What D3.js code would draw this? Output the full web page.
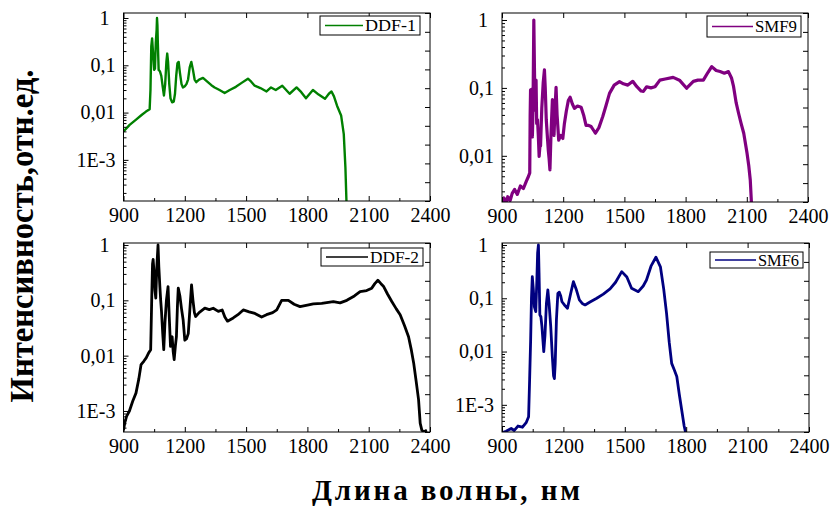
<!DOCTYPE html>
<html>
<head>
<meta charset="utf-8">
<script src="https://cdnjs.cloudflare.com/ajax/libs/d3/7.8.5/d3.min.js"></script>
<style>
body { margin: 0; background: #fff; }
text { font-family: "Liberation Serif", "Times New Roman", serif; }
</style>
</head>
<body>
<svg id="chart" width="834" height="507"></svg>
<script>
// tick labels
var xTicks = [900, 1200, 1500, 1800, 2100, 2400];
var xMinorTicks = [1050, 1350, 1650, 1950, 2250];
var yTickValues = [1, 0.1, 0.01, 0.001];
var yTickLabels = ["1", "0,1", "0,01", "1E-3"];

// spectra: [wavelength nm, relative intensity]
var ddf1 = [[900,0.004],[930,0.0055],[960,0.007],[990,0.009],[1010,0.0105],[1028,0.0118],[1032,0.03],[1036,0.25],
  [1040,0.37],[1044,0.2],[1050,0.08],[1054,0.085],[1058,0.3],[1062,0.55],[1064,1.0],[1066,0.7],[1068,0.3],[1072,0.08],
  [1078,0.075],[1085,0.06],[1092,0.035],[1098,0.023],[1104,0.04],[1110,0.12],[1114,0.177],[1118,0.12],[1124,0.04],
  [1130,0.02],[1138,0.0165],[1146,0.017],[1152,0.025],[1158,0.06],[1164,0.11],[1170,0.118],[1176,0.07],[1184,0.04],
  [1191,0.034],[1200,0.036],[1208,0.04],[1216,0.05],[1224,0.09],[1232,0.118],[1240,0.08],[1248,0.05],[1256,0.044],
  [1270,0.05],[1289,0.054],[1310,0.045],[1330,0.038],[1346,0.034],[1370,0.03],[1395,0.026],[1420,0.03],[1450,0.035],
  [1480,0.043],[1509,0.052],[1525,0.045],[1542,0.037],[1570,0.033],[1600,0.028],[1622,0.034],[1645,0.03],[1677,0.037],
  [1713,0.025],[1747,0.034],[1770,0.027],[1793,0.02],[1827,0.03],[1855,0.024],[1886,0.0195],[1905,0.025],[1918,0.028],
  [1930,0.022],[1945,0.014],[1965,0.0087],[1978,0.0035],[1986,0.0007],[1992,0.0001]];

var smf9 = [[900,0.0019],[910,0.0024],[918,0.0018],[928,0.0025],[940,0.0022],[950,0.0028],[962,0.0032],[975,0.0027],
  [990,0.0036],[1005,0.0033],[1019,0.0042],[1030,0.005],[1036,0.0056],[1038,0.04],[1040,0.094],[1042,0.03],[1044,0.095],
  [1047,0.04],[1049,0.019],[1052,0.05],[1056,1.0],[1059,0.2],[1062,0.047],[1065,0.08],[1067,0.13],[1070,0.03],[1074,0.034],
  [1078,0.02],[1082,0.0098],[1086,0.014],[1089,0.014],[1095,0.05],[1102,0.12],[1108,0.184],[1112,0.1],[1117,0.034],
  [1122,0.02],[1127,0.012],[1131,0.009],[1135,0.0062],[1140,0.02],[1147,0.067],[1151,0.04],[1155,0.02],[1160,0.05],
  [1165,0.102],[1170,0.04],[1178,0.017],[1188,0.02],[1198,0.018],[1206,0.03],[1215,0.045],[1225,0.065],[1234,0.073],
  [1245,0.058],[1255,0.05],[1270,0.054],[1288,0.052],[1300,0.04],[1312,0.028],[1325,0.028],[1337,0.027],[1348,0.024],
  [1358,0.0215],[1375,0.026],[1394,0.038],[1410,0.055],[1427,0.083],[1450,0.11],[1476,0.124],[1495,0.115],[1517,0.11],
  [1541,0.125],[1560,0.105],[1582,0.09],[1593,0.089],[1609,0.104],[1630,0.1],[1650,0.104],[1674,0.13],[1700,0.135],
  [1739,0.143],[1770,0.13],[1805,0.099],[1838,0.125],[1860,0.13],[1887,0.13],[1910,0.17],[1928,0.206],[1950,0.18],
  [1969,0.174],[1990,0.165],[2010,0.174],[2025,0.14],[2035,0.105],[2048,0.06],[2060,0.042],[2072,0.03],[2085,0.0215],
  [2101,0.011],[2110,0.007],[2117,0.0044],[2125,0.0015]];

var ddf2 = [[900,0.00045],[906,0.0006],[915,0.0008],[929,0.001],[945,0.0015],[961,0.0021],[975,0.0038],[986,0.0069],
  [1000,0.008],[1011,0.0091],[1022,0.011],[1033,0.0128],[1038,0.1],[1042,0.45],[1045,0.55],[1050,0.3],[1054,0.15],
  [1058,0.11],[1063,0.4],[1069,1.0],[1073,0.4],[1078,0.177],[1082,0.1],[1086,0.063],[1092,0.025],[1097,0.0128],
  [1103,0.04],[1110,0.1],[1118,0.177],[1124,0.05],[1130,0.0147],[1134,0.02],[1138,0.022],[1143,0.012],[1148,0.0085],
  [1154,0.015],[1159,0.022],[1164,0.08],[1168,0.166],[1176,0.12],[1184,0.07],[1192,0.044],[1200,0.019],[1208,0.02],
  [1217,0.025],[1225,0.07],[1233,0.19],[1240,0.1],[1247,0.06],[1253,0.051],[1270,0.06],[1298,0.072],[1320,0.068],
  [1339,0.072],[1364,0.063],[1383,0.067],[1396,0.05],[1409,0.042],[1437,0.048],[1460,0.055],[1486,0.067],[1515,0.062],
  [1543,0.058],[1576,0.05],[1600,0.055],[1630,0.06],[1650,0.067],[1674,0.1],[1707,0.1],[1735,0.085],[1764,0.077],
  [1800,0.082],[1829,0.086],[1870,0.088],[1927,0.095],[1960,0.09],[1993,0.1],[2030,0.12],[2058,0.144],[2090,0.15],
  [2115,0.166],[2130,0.2],[2145,0.23],[2160,0.2],[2172,0.18],[2192,0.13],[2213,0.095],[2235,0.07],[2254,0.055],
  [2275,0.035],[2295,0.022],[2308,0.013],[2320,0.0074],[2332,0.0035],[2344,0.0016],[2352,0.0006],[2360,0.00045],
  [2370,0.00042],[2385,0.00045]];

var smf6 = [[900,0.0003],[920,0.00032],[945,0.00036],[960,0.00033],[978,0.0004],[1000,0.00038],[1019,0.00047],
  [1030,0.0006],[1035,0.003],[1040,0.0166],[1044,0.1],[1048,0.254],[1053,0.15],[1058,0.07],[1065,0.056],[1070,0.2],
  [1074,0.7],[1078,1.0],[1081,0.3],[1085,0.049],[1090,0.045],[1095,0.03],[1104,0.01],[1110,0.02],[1117,0.08],
  [1124,0.143],[1130,0.08],[1138,0.03],[1146,0.008],[1152,0.0035],[1156,0.0031],[1160,0.006],[1166,0.04],[1173,0.124],
  [1180,0.13],[1187,0.11],[1193,0.086],[1205,0.075],[1220,0.065],[1235,0.12],[1249,0.205],[1262,0.15],[1278,0.093],
  [1292,0.08],[1306,0.075],[1330,0.085],[1363,0.1],[1395,0.12],[1428,0.15],[1455,0.2],[1485,0.316],[1510,0.25],
  [1533,0.154],[1566,0.133],[1590,0.17],[1606,0.22],[1628,0.4],[1652,0.59],[1674,0.39],[1690,0.15],[1704,0.052],
  [1717,0.015],[1729,0.006],[1742,0.0045],[1754,0.0034],[1766,0.0016],[1778,0.0008],[1790,0.0004],[1799,0.00028]];

var panels = [
  {name: "DDF-1", data: ddf1, color: "#008000", lw: 2.4, left: 123.5, right: 430, top: 13, bottom: 201,
   yMin: -3.87, yMax: 0.106, legend: [320, 16, 100, 19, 38]},
  {name: "SMF9", data: smf9, color: "#800080", lw: 3.2, left: 502, right: 808, top: 13, bottom: 202,
   yMin: -2.68, yMax: 0.103, legend: [707, 16, 94, 21, 41]},
  {name: "DDF-2", data: ddf2, color: "#000000", lw: 2.8, left: 123.5, right: 430, top: 243, bottom: 432,
   yMin: -3.38, yMax: 0.036, legend: [321, 248, 102, 18, 42]},
  {name: "SMF6", data: smf6, color: "#000080", lw: 2.8, left: 502, right: 809, top: 243, bottom: 432,
   yMin: -3.51, yMax: 0.0375, legend: [710, 252, 93, 16, 41]}
];

var svg = d3.select("#chart");

panels.forEach(function(p, i) {
    drawPanel(svg, p, i);
});

function styleAxis(g, size) {
    g.select(".domain").remove();
    g.attr("font-family", null).attr("font-size", null);
    g.selectAll("line").attr("stroke", "#000");
    g.selectAll("text").attr("fill", "#000").style("font-size", size + "px");
}

function drawPanel(svg, p, i) {
    var x = d3.scaleLinear().domain([900, 2400]).range([p.left, p.right]);
    var y = d3.scaleLog()
        .domain([Math.pow(10, p.yMin), Math.pow(10, p.yMax)])
        .range([p.bottom, p.top]);
    // right axis of the original is a plain linear one without labels
    var yr = d3.scaleLinear().domain([0, 1]).range([p.bottom, p.top]);

    svg.append("clipPath").attr("id", "clip" + i)
        .append("rect")
        .attr("x", p.left).attr("y", p.top)
        .attr("width", p.right - p.left).attr("height", p.bottom - p.top);

    var line = d3.line()
        .x(function(d) { return x(d[0]); })
        .y(function(d) { return y(d[1]); });

    svg.append("path")
        .datum(p.data)
        .attr("clip-path", "url(#clip" + i + ")")
        .attr("fill", "none")
        .attr("stroke", p.color)
        .attr("stroke-width", p.lw)
        .attr("stroke-linejoin", "round")
        .attr("d", line);

    var dom = y.domain();
    var majors = yTickValues.filter(function(v) { return v >= dom[0] && v <= dom[1]; });
    var minors = y.ticks().filter(function(v) {
        return majors.indexOf(v) < 0 && yTickValues.indexOf(v) < 0;
    });

    // bottom
    svg.append("g")
        .attr("transform", "translate(0," + p.bottom + ")")
        .call(d3.axisBottom(x).tickValues(xTicks).tickSize(-5).tickPadding(7).tickFormat(d3.format("d")))
        .call(styleAxis, 20);
    svg.append("g")
        .attr("transform", "translate(0," + p.bottom + ")")
        .call(d3.axisBottom(x).tickValues(xMinorTicks).tickSize(-3).tickFormat(""))
        .call(styleAxis, 20);
    // top
    svg.append("g")
        .attr("transform", "translate(0," + p.top + ")")
        .call(d3.axisTop(x).tickValues(xTicks).tickSize(-5).tickFormat(""))
        .call(styleAxis, 20);
    // left
    var left = svg.append("g")
        .attr("transform", "translate(" + p.left + ",0)")
        .call(d3.axisLeft(y).tickValues(majors).tickSize(-5).tickPadding(8)
            .tickFormat(function(v) { return yTickLabels[yTickValues.indexOf(v)]; }))
        .call(styleAxis, 20);
    left.selectAll(".tick text").filter(function(v) { return v === 1; }).attr("dx", -6);
    svg.append("g")
        .attr("transform", "translate(" + p.left + ",0)")
        .call(d3.axisLeft(y).tickValues(minors).tickSize(-3).tickFormat(""))
        .call(styleAxis, 20);
    // right
    svg.append("g")
        .attr("transform", "translate(" + p.right + ",0)")
        .call(d3.axisRight(yr).ticks(10).tickSize(-5).tickFormat(""))
        .call(styleAxis, 20);

    svg.append("rect")
        .attr("x", p.left).attr("y", p.top)
        .attr("width", p.right - p.left).attr("height", p.bottom - p.top)
        .attr("fill", "none").attr("stroke", "#000").attr("stroke-width", 1);

    // legend
    var lg = p.legend;
    var leg = svg.append("g");
    leg.append("rect")
        .attr("x", lg[0]).attr("y", lg[1]).attr("width", lg[2]).attr("height", lg[3])
        .attr("fill", "#fff").attr("stroke", "#000").attr("stroke-width", 1);
    leg.append("line")
        .attr("x1", lg[0] + 5).attr("x2", lg[0] + 5 + lg[4])
        .attr("y1", lg[1] + lg[3] / 2).attr("y2", lg[1] + lg[3] / 2)
        .attr("stroke", p.color).attr("stroke-width", 1.5);
    leg.append("text")
        .attr("x", lg[0] + lg[4] + 7).attr("y", lg[1] + lg[3] / 2 + 5.5)
        .attr("textLength", lg[2] - lg[4] - 11)
        .attr("lengthAdjust", "spacingAndGlyphs")
        .style("font-size", "16px")
        .text(p.name);
}

svg.append("text")
    .attr("transform", "translate(33,236) rotate(-90)")
    .attr("text-anchor", "middle")
    .attr("textLength", 333)
    .attr("lengthAdjust", "spacingAndGlyphs")
    .style("font-size", "34px")
    .style("font-weight", "bold")
    .text("Интенсивность,отн.ед.");

svg.append("text")
    .attr("x", 446).attr("y", 500)
    .attr("text-anchor", "middle")
    .attr("textLength", 268)
    .style("font-size", "29px")
    .style("font-weight", "bold")
    .text("Длина волны, нм");
</script>
</body>
</html>
